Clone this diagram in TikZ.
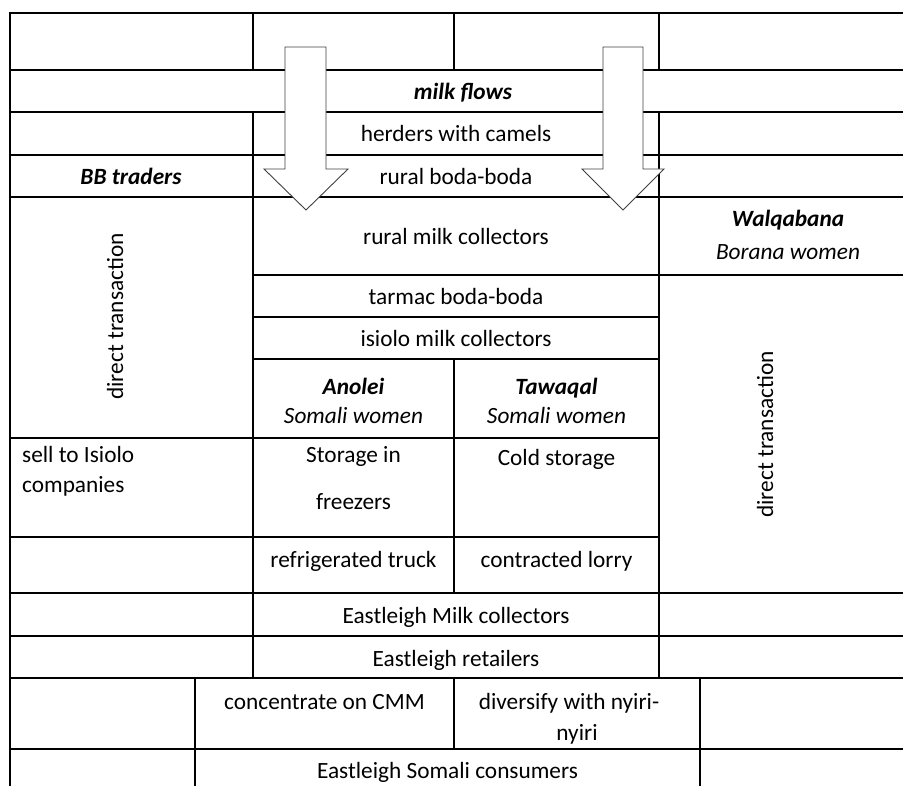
\documentclass[tikz,border=0pt]{standalone}
\usepackage{fontspec}
\setmainfont{Carlito}
\begin{document}
\begin{tikzpicture}[x=1pt,y=-1pt,
  grid/.style={line width=1.9pt, line cap=rect},
  txt/.style={anchor=base, inner sep=0pt, font=\fontsize{23.3}{28}\selectfont},
  txtl/.style={txt, anchor=base west},
  bi/.style={txt, font=\fontsize{23.3}{28}\selectfont\bfseries\itshape},
  it/.style={txt, font=\fontsize{23.3}{28}\selectfont\itshape},
  vert/.style={txt, rotate=90},
  flow/.style={draw=black!75, line width=0.9pt, fill=white, line join=miter}]
\useasboundingbox (0,0) rectangle (903,786);
% horizontal lines
\draw[grid] (10,13) -- (903,13);
\draw[grid] (10,70) -- (903,70);
\draw[grid] (10,112) -- (903,112);
\draw[grid] (10,155) -- (903,155);
\draw[grid] (10,197) -- (903,197);
\draw[grid] (253,275) -- (903,275);
\draw[grid] (253,317) -- (659,317);
\draw[grid] (253,359) -- (659,359);
\draw[grid] (10,438) -- (659,438);
\draw[grid] (10,537) -- (659,537);
\draw[grid] (10,593) -- (903,593);
\draw[grid] (10,636) -- (903,636);
\draw[grid] (10,678) -- (903,678);
\draw[grid] (10,749) -- (903,749);
% vertical lines
\draw[grid] (10,13) -- (10,786);
\draw[grid] (253,13) -- (253,70);
\draw[grid] (253,112) -- (253,678);
\draw[grid] (454,13) -- (454,70);
\draw[grid] (454,359) -- (454,593);
\draw[grid] (454,678) -- (454,749);
\draw[grid] (659,13) -- (659,70);
\draw[grid] (659,112) -- (659,678);
\draw[grid] (195,678) -- (195,786);
\draw[grid] (700,678) -- (700,786);
% texts
\node[bi] (milkflows) at (463,100) {milk flows};
\node[txt] (herders) at (456,142) {herders with camels};
\node[bi] (bbtraders) at (131,185) {BB traders};
\node[txt] (ruralbb) at (456,185) {rural boda-boda};
\node[txt] (ruralmc) at (456,245) {rural milk collectors};
\node[bi] (walq) at (788,227) {Walqabana};
\node[it] (borana) at (788,260) {Borana women};
\node[vert] (dtleft) at (123,316.5) {direct transaction};
\node[vert] (dtright) at (773,434.5) {direct transaction};
\node[txt] (tarmac) at (456,305) {tarmac boda-boda};
\node[txt] (isiolo) at (456,347) {isiolo milk collectors};
\node[bi] (anolei) at (353.5,395) {Anolei};
\node[it] (somali1) at (353.5,424) {Somali women};
\node[bi] (tawaqal) at (556.5,395) {Tawaqal};
\node[it] (somali2) at (556.5,424) {Somali women};
\node[txtl] (sell1) at (22,463) {sell to Isiolo};
\node[txtl] (sell2) at (22,492) {companies};
\node[txt] (stor1) at (353.5,463) {Storage in};
\node[txt] (stor2) at (353.5,509) {freezers};
\node[txt] (cold) at (556.5,465) {Cold storage};
\node[txt] (truck) at (353.5,567) {refrigerated truck};
\node[txt] (lorry) at (556.5,567) {contracted lorry};
\node[txt] (emc) at (456,623) {Eastleigh Milk collectors};
\node[txt] (eret) at (456,666) {Eastleigh retailers};
\node[txt] (cmm) at (324.5,709) {concentrate on CMM};
\node[txt] (div1) at (569,709) {diversify with nyiri-};
\node[txt] (div2) at (577,740) {nyiri};
\node[txt] (esc) at (447.5,778) {Eastleigh Somali consumers};
% flow arrows
\draw[flow] (285,47) -- (326,47) -- (326,169) -- (348,169) -- (306,210) -- (264,169) -- (285,169) -- cycle;
\draw[flow] (603,47) -- (643,47) -- (643,169) -- (664,169) -- (623,210) -- (582,169) -- (603,169) -- cycle;
\end{tikzpicture}
\end{document}
